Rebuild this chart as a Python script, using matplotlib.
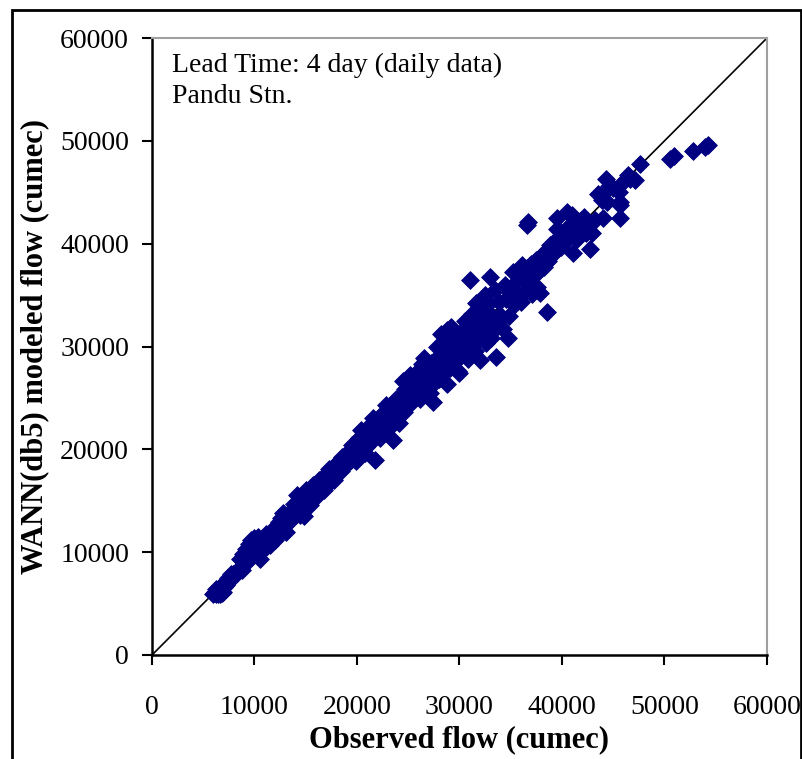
import matplotlib
matplotlib.use("Agg")
import matplotlib.pyplot as plt
from matplotlib.patches import Rectangle

plt.rcParams['font.family'] = ['Liberation Serif', 'DejaVu Serif']

# Observed flow (cumec), WANN(db5) modeled flow (cumec)
observed = [
    # low-flow cluster
    6000, 6200, 6400, 6600, 6800, 6100, 6300, 6500, 6700, 6900, 6200, 6500, 6800, 7000, 7200,
    7000, 7300, 7500, 7600, 7800, 7400, 7900, 8000, 8200, 7700,
    # 8k - 12k
    8600, 8900, 9200, 9500, 9700, 10000, 10300,
    8300, 8500, 8700, 8800, 9000, 9200, 9300, 9500, 9600, 9800, 10000, 10200, 10400, 10500,
    10600, 10800, 11000, 11200, 11400, 11500, 11800, 12000, 11700, 12200, 12300, 9400, 9900,
    10100, 10700, 11100,
    # 12k - 16k
    12400, 12600, 12800, 12500, 12700, 13000, 13100, 13300, 13500, 13600, 13800, 14000, 14100,
    14300, 14400, 14600, 14800, 14900, 15000, 15200, 15400, 15600, 15700, 15900, 13900, 12900,
    14500, 15300, 16000, 16100,
    # 16k - 20k
    16300, 16500, 16700, 16800, 17000, 17200, 17400, 17600, 17800, 18000, 18200, 18400, 18600,
    18800, 19000, 19200, 19400, 19500, 19700, 19900, 20000, 20200, 17300, 18500, 16600, 17900,
    19100,
    # 20k - 25k
    20400, 20500, 20700, 20800, 21000, 21200, 21300, 21500, 21600, 21800, 21900, 22000, 22200,
    22300, 22500, 22600, 22800, 22900, 23000, 23200, 23400, 23500, 23600, 23800, 24000, 24100,
    24200, 24400, 24500, 24600, 24800, 24900, 20900, 21700, 22400, 23300, 24700,
    # 25k - 30k
    25000, 25100, 25200, 25400, 25500, 25700, 25800, 26000, 26100, 26200, 26300, 26500, 26600,
    26700, 26800, 27000, 27100, 27300, 27400, 27500, 27600, 27800, 27900, 28000, 28100, 28200,
    28300, 28500, 28600, 28800, 28800, 28900, 29000, 29100, 29300, 29500, 29600, 29800, 29900,
    30000, 25900, 26400, 27200, 28400, 29200, 29700,
    # 30k - 40k
    30200, 30300, 30500, 30600, 30800, 30900, 31000, 31100, 31200, 31400, 31500, 31600, 31800,
    31900, 32000, 32100, 32300, 32500, 32600, 32700, 32900, 33000, 33100, 33200, 33400, 33500,
    33600, 33700, 33900, 34000, 34200, 34400, 34500, 34700, 34800, 35000, 35200, 35300, 35500,
    35700, 35900, 36000, 36200, 36400, 36600, 36700, 36600, 36800, 37000, 37100, 37300, 37500,
    37600, 37800, 37900, 38000, 38200, 38400, 38500, 38600, 38800, 39000, 39200, 39400, 39500,
    39700, 39900, 34600, 32800, 36100,
    # 40k and above
    40000, 40300, 40600, 40800, 41000, 41200, 41400, 41500, 41800, 42000, 42100, 42300, 42400,
    42500, 42700, 41100, 42900, 43200, 39500, 40500, 43500, 43900, 44000, 44000, 44300, 44400,
    44600, 45000, 45600, 45700, 45700, 45700, 46000, 46400, 46600, 47100, 47600, 50500, 50900,
    52800, 54000, 54200,
]
modeled = [
    5900, 5950, 5900, 5950, 6000, 6100, 6200, 6100, 6150, 6100, 6400, 6500, 6500, 6600, 6800,
    7000, 7100, 7200, 7500, 7600, 7500, 7900, 7700, 8100, 7900,
    9300, 9800, 10300, 10800, 11200, 11400, 11500,
    8000, 8400, 8600, 8300, 8900, 9000, 9400, 9200, 9700, 9900, 10000, 10300, 9800, 9300,
    10600, 10400, 11000, 10600, 11300, 10700, 11700, 11200, 12200, 12400, 11800, 10100, 10600,
    11000, 11300, 11800,
    12900, 13300, 13800, 12000, 12600, 13000, 12000, 13500, 13100, 14000, 13300, 14200, 15600,
    14800, 13600, 14400, 13500, 15100, 16000, 15200, 14600, 15700, 16500, 15300, 14700, 12400,
    15400, 15900, 16200, 15700,
    17000, 16300, 17300, 16000, 17000, 16600, 17800, 17300, 17000, 18000, 18900, 17900, 18400,
    19200, 18600, 19800, 19000, 20400, 19600, 18900, 20200, 21100, 18100, 19300, 16800, 18500,
    19300,
    21900, 20000, 20800, 19600, 21400, 20500, 22400, 21000, 23000, 19000, 21800, 22200, 21100,
    23300, 22500, 21600, 24300, 22800, 23600, 22200, 24000, 20900, 23100, 24900, 23700, 22600,
    25000, 24200, 26600, 23600, 25300, 24500, 20200, 21700, 23000, 23500, 25900,
    25800, 24300, 27200, 25000, 26200, 25200, 27400, 26000, 24900, 26900, 28300, 28900, 25800,
    27400, 26500, 28000, 25500, 27000, 24600, 28600, 26500, 30000, 27800, 26800, 29200, 31200,
    28400, 27500, 29800, 31600, 26400, 28700, 30400, 27900, 29600, 31200, 28500, 30200, 27600,
    27400, 26700, 27600, 28400, 30300, 31900, 29300,
    31500, 29400, 32500, 30400, 28800, 31600, 36500, 30000, 33200, 31200, 29600, 34200, 32300,
    30800, 28700, 33500, 31700, 35000, 30300, 32700, 34200, 36800, 30800, 33000, 31600, 35500,
    29000, 32400, 34300, 33100, 31700, 36000, 34600, 30800, 33000, 35400, 37200, 34000, 36300,
    35000, 37400, 34300, 36500, 35300, 41800, 42100, 37600, 36200, 38000, 35100, 37000, 38400,
    35800, 37300, 35200, 38800, 37700, 39300, 33400, 38300, 39900, 38900, 40200, 39400, 41400,
    40600, 39700, 35600, 33400, 37900,
    41000, 40200, 41600, 40700, 42800, 41800, 41600, 40500, 42200, 41300, 42600, 41000, 41600,
    42000, 39500, 39100, 41000, 42300, 42500, 43100, 44800, 44200, 44900, 42500, 46300, 44100,
    45600, 45400, 45000, 44100, 43800, 42500, 46000, 46700, 46300, 46200, 47700, 48200, 48500,
    49000, 49400, 49600,
]

x_ticks = [0, 10000, 20000, 30000, 40000, 50000, 60000]
y_ticks = [0, 10000, 20000, 30000, 40000, 50000, 60000]
line_1to1 = [0, 60000]

fig = plt.figure(figsize=(8.03, 7.59), dpi=100)
ax = fig.add_axes([152 / 803, 1 - 655 / 759, (767 - 152) / 803, (655 - 38) / 759])

ax.plot(line_1to1, line_1to1, color='black', lw=1.2, zorder=1)
ax.scatter(observed, modeled, marker='D', s=82, color='#000080',
           edgecolors='#000080', linewidths=0.6, zorder=3, clip_on=False)

ax.set_xlim(0, 60000)
ax.set_ylim(0, 60000)
ax.set_xticks(x_ticks)
ax.set_yticks(y_ticks)
ax.set_xticklabels([str(v) for v in x_ticks])
ax.set_yticklabels([str(v) for v in y_ticks])

for side in ['left', 'bottom']:
    ax.spines[side].set_color('black')
    ax.spines[side].set_linewidth(1.8)
for side in ['top', 'right']:
    ax.spines[side].set_color('#a0a0a0')
    ax.spines[side].set_linewidth(1.5)

ax.tick_params(axis='both', direction='out', length=7.5, width=1.5, color='black',
               labelsize=20, top=False, right=False)
ax.tick_params(axis='x', pad=21)
ax.tick_params(axis='y', pad=9)

ax.set_xlabel('Observed flow (cumec)', fontsize=22, fontweight='bold', labelpad=4)
ax.set_ylabel('WANN(db5) modeled flow (cumec)', fontsize=22, fontweight='bold', labelpad=8)

ax.text(0.032, 0.945, 'Lead Time: 4 day (daily data)', transform=ax.transAxes,
        fontsize=20, ha='left', va='baseline')
ax.text(0.032, 0.894, 'Pandu Stn.', transform=ax.transAxes,
        fontsize=20, ha='left', va='baseline')

# figure border
fig.patches.append(Rectangle((12 / 803, -0.01), (801 - 12) / 803, 1 - 10 / 759 + 0.01,
                             transform=fig.transFigure, fill=False, edgecolor='black',
                             linewidth=2))

fig.savefig('out.png', dpi=100)
